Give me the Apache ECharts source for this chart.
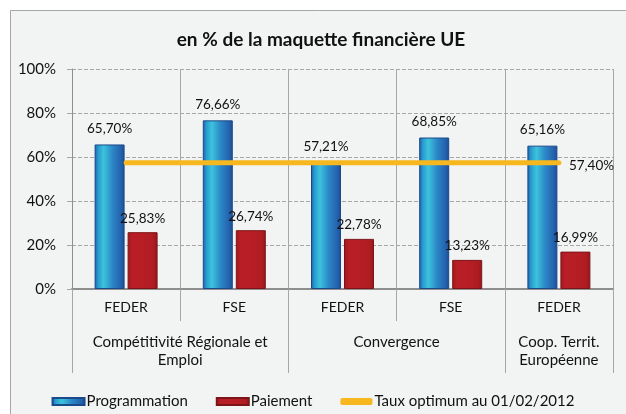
<!DOCTYPE html>
<html><head><meta charset="utf-8">
<script src="https://cdn.jsdelivr.net/npm/echarts@6/dist/echarts.min.js"></script>
<style>html,body{margin:0;padding:0;background:#fff}#c{width:626px;height:414px}</style>
</head><body><div id="c"></div>
<script>
const categories = ['FEDER', 'FSE', 'FEDER', 'FSE', 'FEDER'];
const groupSlots = ['', '', 'Compétitivité Régionale et\nEmploi', '', '', '', 'Convergence', '', '', 'Coop. Territ.\nEuropéenne', ''];
const groupBoundaryIdx = [0, 4, 8, 10];
const groupLabelIdx = [2, 6, 9];
const programmation = [65.70, 76.66, 57.21, 68.85, 65.16];
const paiement = [25.83, 26.74, 22.78, 13.23, 16.99];
const tauxOptimum = [57.40, 57.40, 57.40, 57.40, 57.40];
const yTicks = [0, 20, 40, 60, 80, 100];

const FONT = 'Lato';
const fmt = v => v.toFixed(2).replace('.', ',') + '%';

const blueGrad = new echarts.graphic.LinearGradient(0, 0, 1, 0, [
  {offset: 0, color: '#1d5fa6'},
  {offset: 0.12, color: '#2a9bcf'},
  {offset: 0.3, color: '#3cc3dd'},
  {offset: 0.6, color: '#2b86c6'},
  {offset: 0.88, color: '#2462ad'},
  {offset: 1, color: '#1a4c93'}
]);
const redGrad = new echarts.graphic.LinearGradient(0, 0, 1, 0, [
  {offset: 0, color: '#9c1a1f'},
  {offset: 0.15, color: '#b81e26'},
  {offset: 0.5, color: '#b71e25'},
  {offset: 0.85, color: '#b01c23'},
  {offset: 1, color: '#8f181c'}
]);

const chart = echarts.init(document.getElementById('c'), null, {renderer: 'canvas'});
chart.setOption({
  backgroundColor: '#ffffff',
  animation: false,
  textStyle: {fontFamily: FONT},
  graphic: [{
    type: 'rect', z: -10, silent: true,
    shape: {x: 10.5, y: 10.5, width: 630, height: 420},
    style: {fill: '#f2f3f3', stroke: '#a6a6a6', lineWidth: 1}
  }],
  title: {
    text: 'en % de la maquette financière UE',
    left: 316, textAlign: 'center', top: 25,
    textStyle: {fontFamily: FONT, fontSize: 19, fontWeight: 'bold', color: '#111'}
  },
  legend: {
    left: 'center', top: 389,
    itemWidth: 32, itemHeight: 7, itemGap: 28,
    textStyle: {fontFamily: FONT, fontSize: 15, color: '#111', padding: [0, 0, 0, -3]},
    data: [
      {name: 'Programmation', icon: 'rect'},
      {name: 'Paiement', icon: 'rect'},
      {name: 'Taux optimum au 01/02/2012', icon: 'roundRect'}
    ]
  },
  grid: {left: 72, right: 13, top: 69, bottom: 125, containLabel: false},
  xAxis: [{
    type: 'category', data: categories, position: 'bottom',
    axisLine: {show: true, lineStyle: {color: '#8e8e8e', width: 2}},
    axisTick: {show: true, length: 32, lineStyle: {color: '#a6a6a6', width: 1}},
    axisLabel: {margin: 11, fontFamily: FONT, fontSize: 14, color: '#111'},
    splitLine: {show: true, lineStyle: {color: '#a6a6a6', width: 1}}
  }, {
    type: 'category', data: groupSlots, position: 'bottom', boundaryGap: false,
    axisLine: {show: false},
    axisTick: {show: true, length: 84, interval: (i) => groupBoundaryIdx.includes(i), lineStyle: {color: '#a6a6a6', width: 1}},
    axisLabel: {margin: 44, interval: (i) => groupLabelIdx.includes(i), fontFamily: FONT, fontSize: 15, color: '#111', lineHeight: 18},
    splitLine: {show: false}
  }],
  yAxis: {
    type: 'value', min: yTicks[0], max: yTicks[yTicks.length - 1], interval: 20,
    axisLine: {show: true, lineStyle: {color: '#8e8e8e', width: 1}},
    axisTick: {show: true, length: 5, lineStyle: {color: '#a6a6a6'}},
    axisLabel: {formatter: '{value}%', margin: 16, fontFamily: FONT, fontSize: 15, color: '#111'},
    splitLine: {show: true, lineStyle: {color: '#a6a6a6', type: [4, 2], width: 1}}
  },
  series: [{
    name: 'Programmation', type: 'bar', data: programmation, xAxisIndex: 0,
    barWidth: 30, barGap: '10%',
    itemStyle: {color: blueGrad, borderColor: '#1a4a8a', borderWidth: 1},
    label: {show: true, position: 'top', distance: 9, formatter: p => fmt(p.value), fontFamily: FONT, fontSize: 13.5, color: '#111'}
  }, {
    name: 'Paiement', type: 'bar', data: paiement, xAxisIndex: 0,
    barWidth: 30, barGap: '10%',
    itemStyle: {color: redGrad, borderColor: '#7d1518', borderWidth: 1},
    label: {show: true, position: 'top', distance: 7, formatter: p => fmt(p.value), fontFamily: FONT, fontSize: 13.5, color: '#111'}
  }, {
    name: 'Taux optimum au 01/02/2012', type: 'line', data: tauxOptimum, xAxisIndex: 0,
    symbol: 'none', z: 5,
    lineStyle: {color: '#f6b81e', width: 5, cap: 'round'},
    itemStyle: {color: '#f6b81e'},
    endLabel: {show: true, formatter: p => fmt(p.value), distance: 10, offset: [0, 3], fontFamily: FONT, fontSize: 13.5, color: '#111'}
  }]
});
</script></body></html>
